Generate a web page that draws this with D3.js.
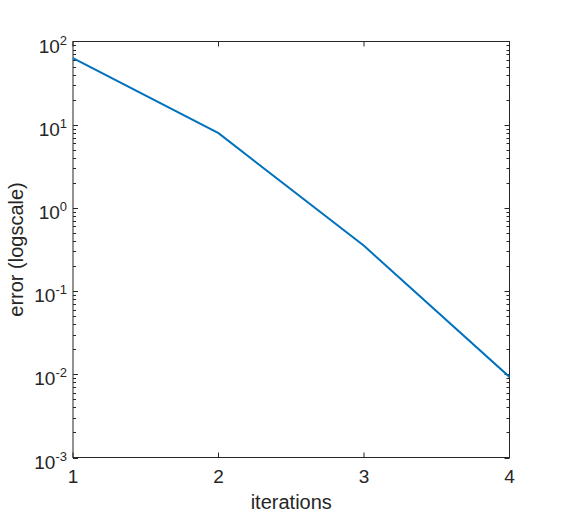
<!DOCTYPE html>
<html><head><meta charset="utf-8">
<script src="https://cdn.jsdelivr.net/npm/d3@7"></script>
<style>body{margin:0;background:#fff;}svg{display:block;font-family:"Liberation Sans",Arial,sans-serif;}</style>
</head><body>
<svg id="c" width="563" height="512"></svg>
<script>
const iterations = [1, 2, 3, 4];
const errors = [63, 7.9, 0.35, 0.0093];
const yTickExps = [-3, -2, -1, 0, 1, 2];
const xTicks = [1, 2, 3, 4];
const xLabel = "iterations";
const yLabel = "error (logscale)";

const svg = d3.select("#c");
const L = 73, R = 509.5, T = 41.5, B = 457.5;
const x = d3.scaleLinear().domain([1, 4]).range([L, R]);
const y = d3.scaleLog().domain([1e-3, 1e2]).range([B, T]);
const axisColor = "#262626";

svg.append("rect").attr("x", L).attr("y", T).attr("width", R - L).attr("height", B - T)
  .attr("fill", "#fff").attr("stroke", axisColor).attr("stroke-width", 1);

// minor & major y ticks (inside, both sides)
const g = svg.append("g").attr("stroke", axisColor).attr("stroke-width", 1);
for (let e = -3; e < 2; e++) {
  for (let m = 1; m < 10; m++) {
    const v = m * Math.pow(10, e);
    const yy = Math.round(y(v)) + 0.5;
    const len = m === 1 ? 5 : 3;
    g.append("line").attr("x1", L).attr("x2", L + len).attr("y1", yy).attr("y2", yy);
    g.append("line").attr("x1", R).attr("x2", R - len).attr("y1", yy).attr("y2", yy);
  }
}
xTicks.forEach(t => {
  const xx = x(t);
  g.append("line").attr("x1", xx).attr("x2", xx).attr("y1", B).attr("y2", B - 5);
  g.append("line").attr("x1", xx).attr("x2", xx).attr("y1", T).attr("y2", T + 5);
});

// y tick labels
yTickExps.forEach(e => {
  const t = svg.append("text").attr("x", L - 6).attr("y", y(Math.pow(10, e)) + 11)
    .attr("text-anchor", "end").attr("font-size", 19).attr("fill", axisColor);
  t.append("tspan").text("10");
  t.append("tspan").attr("dy", -8).attr("font-size", 13).text(String(e));
});
// x tick labels
xTicks.forEach(t => {
  svg.append("text").attr("x", x(t)).attr("y", B + 25.5).attr("text-anchor", "middle")
    .attr("font-size", 19).attr("fill", axisColor).text(t);
});

svg.append("text").attr("x", (L + R) / 2).attr("y", 509).attr("text-anchor", "middle")
  .attr("font-size", 20).attr("fill", axisColor).text(xLabel);
svg.append("text").attr("transform", `translate(23,${(T + B) / 2}) rotate(-90)`)
  .attr("text-anchor", "middle").attr("font-size", 20).attr("fill", axisColor).text(yLabel);

const line = d3.line().x((d, i) => x(iterations[i])).y(d => y(d));
svg.append("path").datum(errors).attr("d", line).attr("fill", "none")
  .attr("stroke", "#0072BD").attr("stroke-width", 2);
</script>
</body></html>
